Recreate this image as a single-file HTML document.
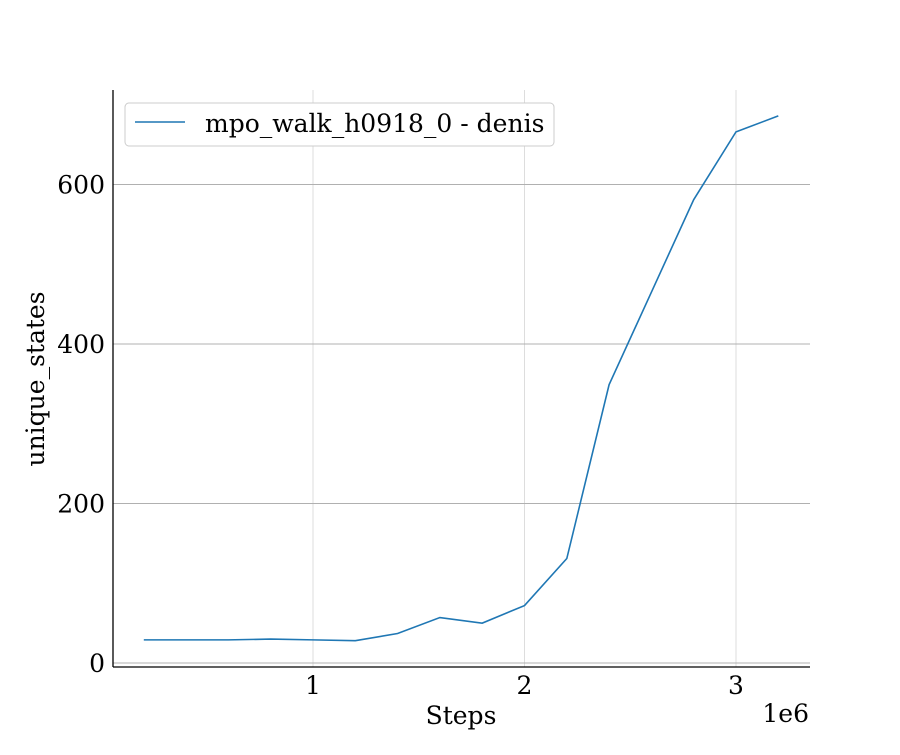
<!DOCTYPE html>
<html><head><meta charset="utf-8"><style>
body{margin:0;background:#fff}
svg text{font-family:"DejaVu Serif","Liberation Serif",serif;fill:#000}
</style></head><body>
<svg width="900" height="750">
<g id="grid"></g>
<polyline id="line" fill="none" stroke="#1f77b4" stroke-width="1.6"/>
<line x1="113" y1="90" x2="113" y2="667" stroke="#000" stroke-width="1.3"/>
<line x1="113" y1="667" x2="810" y2="667" stroke="#000" stroke-width="1.3"/>
<g id="ticks"></g>
<text x="461" y="724" font-size="25" text-anchor="middle">Steps</text>
<text x="809" y="722" font-size="25" text-anchor="end">1e6</text>
<text transform="translate(44,379) rotate(-90)" font-size="25" text-anchor="middle">unique_states</text>
<g>
<rect x="125" y="103" width="429" height="43" rx="4" fill="#fff" stroke="#ccc"/>
<line x1="135" y1="122" x2="185" y2="122" stroke="#1f77b4" stroke-width="1.6"/>
<text x="205" y="132" font-size="25">mpo_walk_h0918_0 - denis</text>
</g>
</svg>
<script>
const xs=[0.2,0.4,0.6,0.8,1.0,1.2,1.4,1.6,1.8,2.0,2.2,2.4,2.6,2.8,3.0,3.2];
const ys=[29,29,29,30,29,28,37,57,50,72,131,349,465,581,666,686];
const xTicks=[1,2,3];
const yTicks=[0,200,400,600];
const X=v=>101.5+v*211.5;
const Y=v=>663-v*0.7975;
const ns="http://www.w3.org/2000/svg";
const grid=document.getElementById('grid'),ticks=document.getElementById('ticks');
function mk(p,tag,a){const e=document.createElementNS(ns,tag);for(const k in a)e.setAttribute(k,a[k]);p.appendChild(e);return e;}
xTicks.forEach(t=>{
 const g=mk(grid,'line',{x1:X(t),x2:X(t),y1:90,y2:667,stroke:'#ddd','stroke-width':1});
 
 
 const tk=mk(ticks,'text',{x:X(t),y:694,'font-size':25,'text-anchor':'middle'});
 tk.textContent=t;
 
 
});
yTicks.forEach(t=>{
 const g=mk(grid,'line',{x1:113,x2:810,y1:Y(t),y2:Y(t),stroke:'#b0b0b0','stroke-width':1});
 
 
 const tk=mk(ticks,'text',{x:105,y:Y(t)+9,'font-size':25,'text-anchor':'end'});
 tk.textContent=t;
 
 
});
document.getElementById('line').setAttribute('points',xs.map((x,i)=>X(x)+','+Y(ys[i])).join(' '));
</script>
</body></html>
